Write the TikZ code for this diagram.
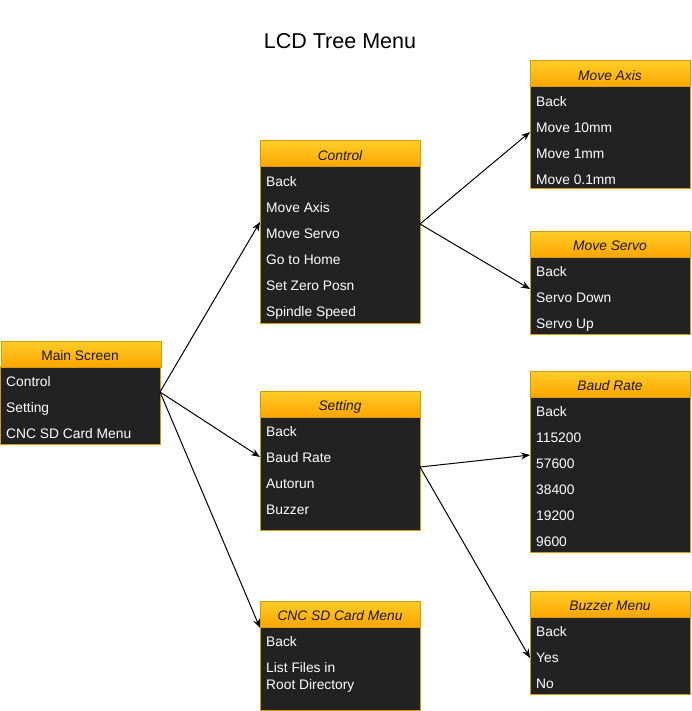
\documentclass[tikz,border=0pt]{standalone}
\usepackage{fontspec}
\setmainfont{Liberation Sans}
\usetikzlibrary{arrows.meta}
\definecolor{hdrtop}{HTML}{FFCD28}
\definecolor{hdrbot}{HTML}{FFA500}
\definecolor{hdrline}{HTML}{D79B00}
\definecolor{bodyc}{HTML}{222222}
\tikzset{
  hdr/.style={draw=hdrline, line width=1pt, top color=hdrtop, bottom color=hdrbot,
    minimum width=160pt, minimum height=26pt, inner sep=0pt, anchor=north west},
  htxt/.style={font=\fontsize{13.8}{15}\selectfont\itshape, text=black!90, inner sep=0pt, anchor=base},
  bodybox/.style={draw=hdrline, line width=1pt, fill=bodyc},
  item/.style={anchor=base west, inner sep=0pt, text=white, font=\fontsize{13.8}{17}\selectfont},
  link/.style={draw=black, line width=1pt, -{Stealth[length=9pt,width=7pt]}},
}
\begin{document}
\begin{tikzpicture}[x=1pt,y=-1pt]
\useasboundingbox (0,0) rectangle (692,711);
\node[font=\fontsize{21.5}{24}\selectfont] (title) at (340,41) {LCD Tree Menu};

% Main Screen
\path[bodybox] (0.5,366) rectangle (160,444);
\node[hdr] (ms) at (0.5,340.5) {};
\node[htxt, font=\fontsize{13.8}{15}\selectfont] (mst) at (80,360.5) {Main Screen};
\node[item] (ms1) at (6,386.5) {Control};
\node[item] (ms2) at (6,412.5) {Setting};
\node[item] (ms3) at (6,438.5) {CNC SD Card Menu};

% Control
\path[bodybox] (260,166) rectangle (420,323);
\node[hdr] (ctl) at (260,140.5) {};
\node[htxt] (ctlt) at (340,160.5) {Control};
\node[item] (c1) at (266,186.5) {Back};
\node[item] (c2) at (266,212.5) {Move Axis};
\node[item] (c3) at (266,238.5) {Move Servo};
\node[item] (c4) at (266,264.5) {Go to Home};
\node[item] (c5) at (266,290.5) {Set Zero Posn};
\node[item] (c6) at (266,316.5) {Spindle Speed};

% Setting
\path[bodybox] (260,416) rectangle (420,530);
\node[hdr] (set) at (260,390.5) {};
\node[htxt] (sett) at (340,410.5) {Setting};
\node[item] (s1) at (266,436.5) {Back};
\node[item] (s2) at (266,462.5) {Baud Rate};
\node[item] (s3) at (266,488.5) {Autorun};
\node[item] (s4) at (266,514.5) {Buzzer};

% CNC SD Card Menu
\path[bodybox] (260,626) rectangle (420,710);
\node[hdr] (cnc) at (260,600.5) {};
\node[htxt] (cnct) at (340,620.5) {CNC SD Card Menu};
\node[item] (n1) at (266,646.5) {Back};
\node[item] (n2) at (266,672) {List Files in};
\node[item] (n3) at (266,689) {Root Directory};

% Move Axis
\path[bodybox] (530,86) rectangle (690,189);
\node[hdr] (ax) at (530,60.5) {};
\node[htxt] (axt) at (610,80.5) {Move Axis};
\node[item] (a1) at (536,106.5) {Back};
\node[item] (a2) at (536,132.5) {Move 10mm};
\node[item] (a3) at (536,158.5) {Move 1mm};
\node[item] (a4) at (536,184.5) {Move 0.1mm};

% Move Servo
\path[bodybox] (530,256) rectangle (690,334);
\node[hdr] (sv) at (530,230.5) {};
\node[htxt] (svt) at (610,250.5) {Move Servo};
\node[item] (v1) at (536,276.5) {Back};
\node[item] (v2) at (536,302.5) {Servo Down};
\node[item] (v3) at (536,328.5) {Servo Up};

% Baud Rate
\path[bodybox] (530,396) rectangle (690,552);
\node[hdr] (bd) at (530,370.5) {};
\node[htxt] (bdt) at (610,390.5) {Baud Rate};
\node[item] (b1) at (536,416.5) {Back};
\node[item] (b2) at (536,442.5) {115200};
\node[item] (b3) at (536,468.5) {57600};
\node[item] (b4) at (536,494.5) {38400};
\node[item] (b5) at (536,520.5) {19200};
\node[item] (b6) at (536,546.5) {9600};

% Buzzer Menu
\path[bodybox] (530,616) rectangle (690,694);
\node[hdr] (bz) at (530,590.5) {};
\node[htxt] (bzt) at (610,610.5) {Buzzer Menu};
\node[item] (z1) at (536,636.5) {Back};
\node[item] (z2) at (536,662.5) {Yes};
\node[item] (z3) at (536,688.5) {No};

% connector ends
\coordinate (msout) at (160,392);
\coordinate (ctlin) at (260,222);
\coordinate (setin) at (260,457);
\coordinate (cncin) at (260,628);
\coordinate (ctlout) at (420,224);
\coordinate (axin) at (530,132);
\coordinate (svin) at (530,289);
\coordinate (setout) at (420,467);
\coordinate (bdin) at (530,455);
\coordinate (bzin) at (530,658);

\draw[link] (msout) -- (ctlin);
\draw[link] (msout) -- (setin);
\draw[link] (msout) -- (cncin);
\draw[link] (ctlout) -- (axin);
\draw[link] (ctlout) -- (svin);
\draw[link] (setout) -- (bdin);
\draw[link] (setout) -- (bzin);
\end{tikzpicture}
\end{document}
